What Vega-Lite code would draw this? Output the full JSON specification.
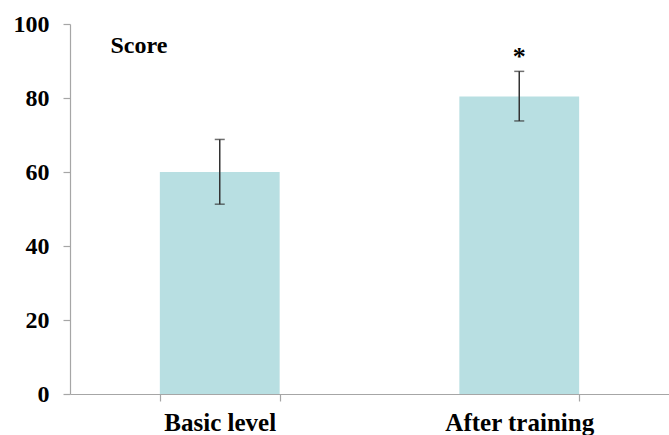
{
  "$schema": "https://vega.github.io/schema/vega-lite/v6.json",
  "width": 599,
  "height": 370,
  "autosize": {"type": "none"},
  "padding": {"left": 70, "top": 24, "right": 0, "bottom": 41},
  "background": "white",
  "config": {"view": {"stroke": null}, "font": "Liberation Serif"},
  "data": {"values": [
    {"stage": "Basic level", "score": 60, "lo": 51.3, "hi": 68.8, "sig": ""},
    {"stage": "After training", "score": 80.4, "lo": 73.8, "hi": 87.2, "sig": "*"}
  ]},
  "encoding": {
    "x": {
      "field": "stage", "type": "nominal", "sort": null,
      "scale": {"paddingInner": 0.6, "paddingOuter": 0.3},
      "axis": {
        "title": null, "labelAngle": 0, "labelFont": "Liberation Serif", "labelFontWeight": "bold",
        "labelFontSize": 25, "labelColor": "black", "labelPadding": 9,
        "tickBand": "extent", "tickSize": 7, "tickColor": "#a6a6a6", "domainColor": "#a6a6a6",
        "domainWidth": 1.2, "tickWidth": 1.2
      }
    }
  },
  "layer": [
    {
      "mark": {"type": "bar", "color": "#b8dfe2"},
      "encoding": {
        "y": {
          "field": "score", "type": "quantitative",
          "scale": {"domain": [0, 100], "nice": false},
          "axis": {
            "values": [0, 20, 40, 60, 80, 100], "grid": false,
            "title": "Score", "titleAngle": 0, "titleX": 40, "titleY": 21,
            "titleAlign": "left", "titleBaseline": "middle",
            "titleFont": "Liberation Serif", "titleFontSize": 24, "titleFontWeight": "bold", "titleColor": "black",
            "labelFont": "Liberation Serif", "labelFontWeight": "bold", "labelFontSize": 24,
            "labelColor": "black", "labelPadding": 14, "tickSize": 7,
            "tickColor": "#a6a6a6", "domainColor": "#a6a6a6", "domainWidth": 1.2, "tickWidth": 1.2
          }
        }
      }
    },
    {
      "mark": {"type": "rule", "color": "#333333", "strokeWidth": 1.5},
      "encoding": {
        "y": {"field": "lo", "type": "quantitative"},
        "y2": {"field": "hi"}
      }
    },
    {
      "mark": {"type": "tick", "color": "#333333", "size": 10, "thickness": 1.5},
      "encoding": {"y": {"field": "lo", "type": "quantitative"}}
    },
    {
      "mark": {"type": "tick", "color": "#333333", "size": 10, "thickness": 1.5},
      "encoding": {"y": {"field": "hi", "type": "quantitative"}}
    },
    {
      "mark": {"type": "text", "font": "Liberation Serif", "fontWeight": "bold", "fontSize": 26, "baseline": "middle", "dy": -14, "color": "black"},
      "encoding": {
        "y": {"field": "hi", "type": "quantitative"},
        "text": {"field": "sig"}
      }
    }
  ]
}
